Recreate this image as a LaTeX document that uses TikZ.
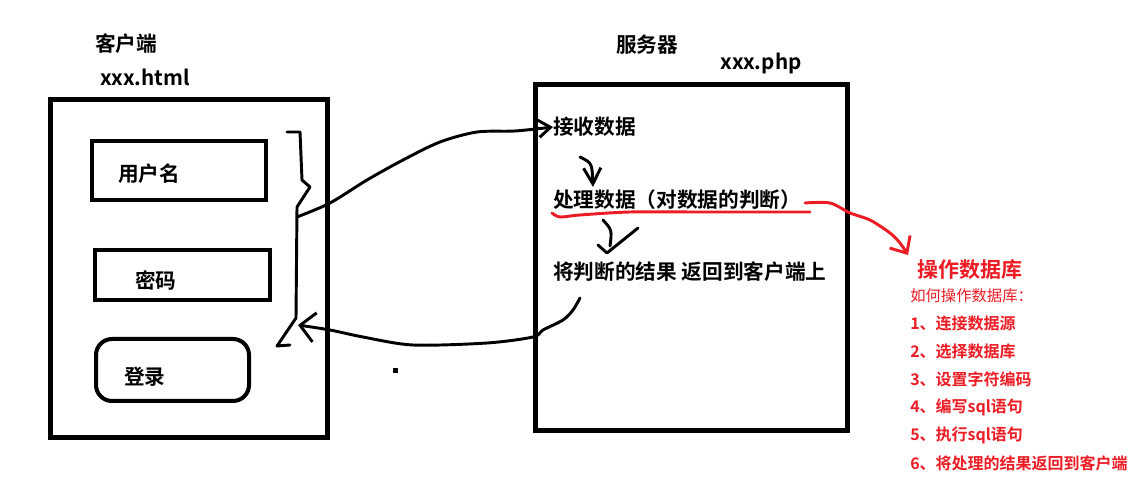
\documentclass[tikz,border=0pt]{standalone}
\usepackage{fontspec}
\setmainfont{Noto Sans CJK SC}[BoldFont={* Bold}]
\usetikzlibrary{arrows.meta,positioning}
\definecolor{paintred}{RGB}{237,28,36}

\tikzset{
  outerbox/.style={line width=3.75pt},
  fieldbox/.style={draw, line width=3pt, inner sep=0pt},
  bigtext/.style={font=\bfseries\fontsize{15.5}{18}\selectfont, inner sep=0pt},
  redtitle/.style={text=paintred, font=\bfseries\fontsize{15.75}{18}\selectfont, inner sep=0pt},
  redsmall/.style={text=paintred, font=\fontsize{11.5}{14}\selectfont, inner sep=0pt},
  reditem/.style={text=paintred, font=\bfseries\fontsize{12}{14}\selectfont, inner sep=0pt, anchor=west},
  hand/.style={line width=2.2pt, line cap=round, line join=round},
  redhand/.style={hand, draw=paintred},
}

\begin{document}
\begin{tikzpicture}[x=0.75pt, y=-0.75pt]
  \useasboundingbox (0,0) rectangle (1140,488);

  % client
  \node[bigtext] (client) at (126,44) {客户端};
  \node[bigtext, anchor=west] (html) at (100,77) {xxx.html};
  \draw[outerbox] (50.5,100) rectangle (327.5,438);

  \node[fieldbox, minimum width=130.5pt, minimum height=44.25pt] (user) at (179,170.5) {};
  \node[fieldbox, minimum width=131.25pt, minimum height=37.5pt] (pwd) at (182.5,275) {};
  \node[fieldbox, rounded corners=12pt, minimum width=114.75pt, minimum height=46.5pt] (login) at (172.5,370) {};
  \node[bigtext, anchor=west] (usertxt) at (118,174) {用户名};
  \node[bigtext, anchor=west] (pwdtxt) at (135,280) {密码};
  \node[bigtext, anchor=west] (logintxt) at (124,377) {登录};

  % server
  \node[bigtext] (server) at (647,45) {服务器};
  \node[bigtext] (php) at (761,63) {xxx.php};
  \draw[outerbox] (535,84.5) rectangle (847.5,430.5);

  \node[bigtext, anchor=west] (recv) at (553,127) {接收数据};
  \node[bigtext, anchor=west] (proc) at (553,200) {处理数据（对数据的判断）};
  \node[bigtext, anchor=west] (back) at (553,272) {将判断的结果 返回到客户端上};

  % database
  \node[redtitle] (db) at (970,270) {操作数据库};
  \node[redsmall, anchor=west] (how) at (910,296) {如何操作数据库：};
  \foreach \txt [count=\i] in {连接数据源, 选择数据库, 设置字符编码, 编写sql语句, 执行sql语句, 将处理的结果返回到客户端}
    \node[reditem] (step\i) at (910,295+28*\i) {\i、\txt};

  % brace round the form
  \coordinate (bracemid) at (297,217);
  \coordinate (bracefoot) at (298,325);
  \draw[hand] (287,132) -- (300,132) -- (302,180) -- (310,187) -- (297,207) -- (296,318) -- (277,346) -- (290,345);

  % send / return
  \draw[hand, -{Straight Barb[length=9pt,width=13pt]}] plot[smooth] coordinates
    {(bracemid) (330,203) (367,180) (403,160) (440,142) (477,132) (515,131) (recv.west)};
  \coordinate (backtail) at (580,298);
  \draw[hand, -{Straight Barb[length=11pt,width=22pt]}] plot[smooth] coordinates
    {(backtail) (573,310) (563,320) (543,330) (533,337) (487,343) (413,345) (363,337) (330,330) (bracefoot)};

  % steps inside the server
  \coordinate (s1) at (580,157);
  \draw[hand, -{Straight Barb[length=12pt,width=13pt]}] (s1) .. controls (592,163) .. (593,187);
  \coordinate (s2) at (603,220);
  \draw[hand] (s2) .. controls (612,230) .. (610,246);
  \draw[hand] (598,245) -- (607,253) -- (638,228);

  % red marks
  \draw[redhand] plot[smooth] coordinates {(552,213) (560,217) (580,215) (630,212) (700,212) (810,212)};
  \coordinate (redtail) at (805,203);
  \draw[redhand, -{Straight Barb[length=10pt,width=18pt]}] plot[smooth] coordinates
    {(redtail) (830,203) (850,213) (870,220) (890,233) (900,243) (908,255)};

  \fill (393,368) rectangle (398,373);
\end{tikzpicture}
\end{document}
